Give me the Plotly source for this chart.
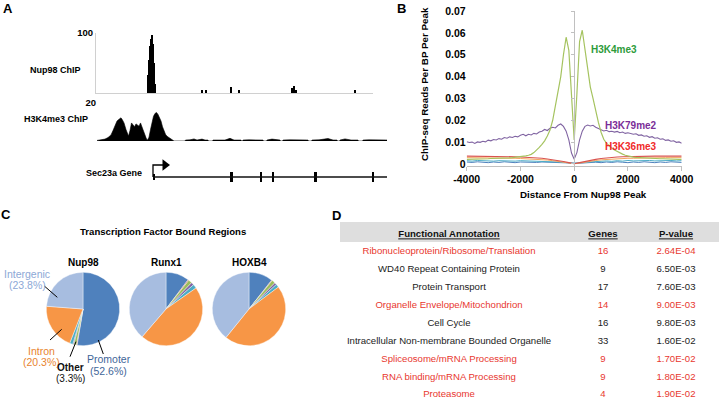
import plotly.graph_objects as go

W, H = 719, 400
def X(px): return px / W
def Y(py): return 1 - py / H

FONT = "Arial, 'Liberation Sans', Helvetica, sans-serif"

# ---------------- Panel A data ----------------
nup98_pos = [52, 53, 54, 55, 56, 57, 58, 59, 106, 110.5, 135, 143, 196, 198, 200, 259]
nup98_val = [30, 55, 78, 90, 97, 82, 50, 15, 5, 5, 10, 5, 9, 11, 5, 5]

h3k4_track_pos = [0, 4, 8, 11, 14, 16, 18, 20, 22, 24, 25.5, 27, 29, 30.5, 31.5, 33, 34.5, 36, 37.5, 39,
                  40.5, 42, 43.5, 45, 46.5, 48, 49.5, 50.5, 52, 53.5, 55, 56.5, 58, 59.5, 61, 62.5, 64,
                  65.5, 67, 68.5, 70, 72, 74, 76, 77, 88, 88.5, 93, 97, 100, 105, 108, 111, 111.5,
                  115.5, 116, 122, 128, 133, 137, 144, 144.5, 145.5, 146, 152, 158, 163, 166, 166.5,
                  169.5, 170, 175, 183, 183.5, 185.5, 186, 193, 200, 206, 211, 211.5, 214.5, 215, 222,
                  231, 236, 240, 240.5, 242.5, 243, 248, 254, 261, 261.5, 265.5, 266, 272, 280, 286, 290]
h3k4_track_val = [0.3, 0.6, 1.0, 1.8, 3.2, 5.5, 8.0, 10.5, 11.4, 12.2, 11.0, 9.5, 6.0, 3.5, 2.6, 5.5, 9.5,
                  8.5, 7.5, 9.0, 8.2, 7.8, 9.5, 7.5, 5.0, 2.5, 1.0, 0.5, 2.0, 6.0, 10.5, 13.0, 14.5,
                  15.0, 14.0, 12.5, 10.5, 7.5, 5.0, 3.5, 2.5, 1.8, 1.2, 0.6, 0, 0, 0.5, 0.6, 1.1, 0.5,
                  1.0, 0.5, 0.5, 0, 0, 0.5, 0.6, 0.5, 1.4, 0.5, 0.5, 0, 0, 0.5, 0.6, 0.5, 0.7, 0.5, 0,
                  0, 0.5, 1.0, 0.5, 0, 0, 0.5, 0.6, 0.5, 0.6, 0.5, 0, 0, 0.5, 0.6, 1.3, 0.5, 0.5, 0,
                  0, 0.5, 1.1, 0.5, 0.5, 0, 0, 0.5, 0.6, 0.5, 0.6, 0.5]

gene_start = 56
gene_end = 291
exon_center = [56.5, 134.7, 164, 176.3, 218, 276.3]
exon_width = [2, 3, 1, 1, 3, 1]
exon_half_height = [0.3, 0.5, 0.5, 0.5, 0.5, 0.5]

# ---------------- Panel B data ----------------
dist_fine = [-4000, -3900, -3800, -3700, -3600, -3500, -3400, -3300, -3200, -3100, -3000, -2900, -2800,
             -2700, -2600, -2500, -2400, -2300, -2200, -2100, -2000, -1900, -1800, -1700, -1600, -1500,
             -1400, -1300, -1200, -1100, -1000, -900, -800, -700, -600, -500, -400, -300, -200, -100, 0,
             100, 200, 300, 400, 500, 600, 700, 800, 900, 1000, 1100, 1200, 1300, 1400, 1500, 1600, 1700,
             1800, 1900, 2000, 2100, 2200, 2300, 2400, 2500, 2600, 2700, 2800, 2900, 3000, 3100, 3200,
             3300, 3400, 3500, 3600, 3700, 3800, 3900, 4000]
h3k4me3 = [.0021, .0021, .0022, .0022, .0022, .0023, .0023, .0024, .0024, .0025, .0025, .0026, .0026,
           .0027, .0027, .0028, .0028, .0029, .0030, .0031, .0033, .0035, .0037, .0040, .0044, .0052,
           .0062, .0076, .0090, .0106, .0128, .0155, .0200, .0265, .0330, .0400, .0500, .0580, .0520,
           .0320, .0110, .0320, .0560, .0612, .0520, .0420, .0352, .0300, .0240, .0190, .0145, .0113,
           .0095, .0082, .0072, .0064, .0057, .0051, .0045, .0040, .0036, .0033, .0031, .0030, .0029,
           .0028, .0027, .0027, .0026, .0026, .0025, .0025, .0024, .0024, .0023, .0023, .0022, .0022,
           .0022, .0021, .0021]
h3k79me2 = [.0102, .0098, .0100, .0094, .0101, .0099, .0104, .0101, .0109, .0106, .0112, .0110, .0116,
            .0113, .0121, .0118, .0124, .0121, .0127, .0124, .0131, .0136, .0129, .0136, .0133, .0140,
            .0137, .0146, .0150, .0158, .0153, .0163, .0168, .0165, .0177, .0183, .0172, .0150, .0110,
            .0050, .0022, .0052, .0110, .0150, .0172, .0178, .0174, .0177, .0168, .0162, .0156, .0151,
            .0154, .0148, .0150, .0146, .0149, .0143, .0146, .0140, .0143, .0139, .0136, .0138, .0131,
            .0133, .0127, .0129, .0122, .0125, .0118, .0120, .0113, .0115, .0108, .0110, .0104, .0106,
            .0099, .0101, .0095]

dist_coarse = [-4000, -3800, -3600, -3400, -3200, -3000, -2800, -2600, -2400, -2200, -2000, -1800, -1600,
               -1400, -1200, -1000, -800, -600, -400, -200, 0, 200, 400, 600, 800, 1000, 1200, 1400,
               1600, 1800, 2000, 2200, 2400, 2600, 2800, 3000, 3200, 3400, 3600, 3800, 4000]
h3k36me3 = [.0036, .0036, .0036, .0035, .0035, .0035, .0034, .0034, .0033, .0033, .0032, .0031, .0030,
            .0028, .0026, .0023, .0020, .0016, .0011, .0006, .0001, .0006, .0012, .0017, .0021, .0025,
            .0028, .0030, .0032, .0033, .0034, .0034, .0035, .0035, .0035, .0036, .0036, .0036, .0036,
            .0036, .0036]
mark_orange = [.0029, .0029, .0029, .0028, .0028, .0028, .0027, .0027, .0026, .0026, .0025, .0024, .0023,
               .0022, .0020, .0018, .0015, .0012, .0008, .0004, .0001, .0004, .0009, .0013, .0016, .0019,
               .0021, .0023, .0024, .0025, .0026, .0026, .0027, .0027, .0028, .0028, .0028, .0029, .0029,
               .0029, .0029]
mark_teal = [.0015, .0013, .0016, .0014, .0015, .0013, .0015, .0014, .0016, .0013, .0015, .0014, .0013,
             .0015, .0012, .0013, .0011, .0010, .0008, .0005, .0003, .0006, .0008, .0010, .0012, .0013,
             .0014, .0012, .0015, .0013, .0016, .0014, .0015, .0013, .0016, .0014, .0015, .0013, .0016,
             .0014, .0015]
mark_blue = [.0009, .0007, .0010, .0008, .0006, .0009, .0007, .0010, .0008, .0006, .0009, .0008, .0010,
             .0007, .0009, .0008, .0006, .0007, .0005, .0003, .0001, .0003, .0005, .0007, .0008, .0006,
             .0009, .0007, .0010, .0008, .0006, .0009, .0007, .0010, .0008, .0006, .0009, .0007, .0010,
             .0008, .0007]
b_xticks = [-4000, -2000, 0, 2000, 4000]
b_xtick_text = ["-4000", "-2000", "0", "2000", "4000"]
b_yticks = [0, 0.01, 0.02, 0.03, 0.04, 0.05, 0.06, 0.07]
b_ytick_text = ["0", "0.01", "0.02", "0.03", "0.04", "0.05", "0.06", "0.07"]

# ---------------- Panel C data ----------------
region_labels = ["Promoter", "5' UTR", "Exon", "3' UTR", "TTS", "Intron", "Intergenic"]
region_colors = ["#4F81BD", "#C0504D", "#9BBB59", "#8064A2", "#4BACC6", "#F79646", "#A7BDE0"]
nup98_pie = [52.6, 0.3, 1.2, 0.4, 1.4, 20.3, 23.8]
runx1_pie = [10.3, 0.4, 1.6, 1.2, 1.8, 46.0, 38.7]
hoxb4_pie = [10.6, 0.3, 1.5, 1.0, 1.4, 46.0, 39.2]

# ---------------- Panel D data ----------------
table_header = ["Functional Annotation", "Genes", "P-value"]
func_annotation = ["Ribonucleoprotein/Ribosome/Translation", "WD40 Repeat Containing Protein",
                   "Protein Transport", "Organelle Envelope/Mitochondrion", "Cell Cycle",
                   "Intracellular Non-membrane Bounded Organelle", "Spliceosome/mRNA Processing",
                   "RNA binding/mRNA Processing", "Proteasome"]
genes = ["16", "9", "17", "14", "16", "33", "9", "9", "4"]
pvalues = ["2.64E-04", "6.50E-03", "7.60E-03", "9.00E-03", "9.80E-03", "1.60E-02", "1.70E-02",
           "1.80E-02", "1.90E-02"]
highlight = [True, False, False, True, False, False, True, True, True]

RED = "#E8372F"
DARK = "#222222"

fig = go.Figure()

# ----- Panel A traces -----
fig.add_trace(go.Bar(x=nup98_pos, y=nup98_val, width=1.1, marker=dict(color="black", line=dict(width=0)),
                     xaxis="x3", yaxis="y3", showlegend=False))
fig.add_trace(go.Scatter(x=h3k4_track_pos, y=h3k4_track_val, mode="lines", fill="tozeroy",
                         line=dict(color="black", width=0.6), fillcolor="black",
                         xaxis="x4", yaxis="y4", showlegend=False))
fig.add_trace(go.Scatter(x=[gene_start, gene_end], y=[0, 0], mode="lines",
                         line=dict(color="#111111", width=1.3), xaxis="x5", yaxis="y5", showlegend=False))
fig.add_trace(go.Bar(x=exon_center, y=[2 * h for h in exon_half_height], base=[-h for h in exon_half_height],
                     width=exon_width, marker=dict(color="black", line=dict(width=0)),
                     xaxis="x5", yaxis="y5", showlegend=False))
arrow_len = 10
fig.add_trace(go.Scatter(x=[gene_start, gene_start, gene_start + arrow_len], y=[0, 1.2, 1.2], mode="lines",
                         line=dict(color="black", width=1.3), xaxis="x5", yaxis="y5", showlegend=False))
fig.add_trace(go.Scatter(x=[gene_start + arrow_len + 2], y=[1.2], mode="markers",
                         marker=dict(symbol="triangle-right", size=10, color="black"),
                         xaxis="x5", yaxis="y5", showlegend=False))

# ----- Panel B traces -----
fig.add_trace(go.Scatter(x=dist_coarse, y=mark_blue, mode="lines", line=dict(color="#4F81BD", width=1),
                         showlegend=False))
fig.add_trace(go.Scatter(x=dist_coarse, y=mark_teal, mode="lines", line=dict(color="#4BACC6", width=1),
                         showlegend=False))
fig.add_trace(go.Scatter(x=dist_coarse, y=mark_orange, mode="lines", line=dict(color="#F2A65E", width=1),
                         showlegend=False))
fig.add_trace(go.Scatter(x=dist_coarse, y=h3k36me3, mode="lines", line=dict(color="#D9534F", width=1.1),
                         showlegend=False))
fig.add_trace(go.Scatter(x=dist_fine, y=h3k79me2, mode="lines", line=dict(color="#8064A2", width=1.1),
                         showlegend=False))
fig.add_trace(go.Scatter(x=dist_fine, y=h3k4me3, mode="lines", line=dict(color="#A5C35F", width=1.2),
                         showlegend=False))
fig.add_trace(go.Scatter(x=[0], y=[0], mode="markers", marker=dict(size=1, opacity=0),
                         xaxis="x", yaxis="y2", showlegend=False, hoverinfo="skip"))

# ----- Panel C pies -----
pie_r = 36.7
for vals, cx in [(nup98_pie, 83), (runx1_pie, 166), (hoxb4_pie, 249)]:
    cy = 309
    fig.add_trace(go.Pie(values=vals, labels=region_labels, sort=False, direction="clockwise", rotation=0,
                         marker=dict(colors=region_colors, line=dict(color="white", width=0.4)),
                         textinfo="none", showlegend=False,
                         domain=dict(x=[X(cx - pie_r), X(cx + pie_r)], y=[Y(cy + pie_r), Y(cy - pie_r)])))

# ----- Panel D table (text cells on their own axis: x = column centre, y = row index) -----
row_colors = [RED if h else DARK for h in highlight]
rows = list(range(len(func_annotation)))
col_centres = [449, 603, 676]
header_row = -0.95
for col_vals, cx in zip([func_annotation, genes, pvalues], col_centres):
    fig.add_trace(go.Scatter(x=[cx] * len(col_vals), y=rows, text=col_vals, mode="text",
                             textposition="middle center",
                             textfont=dict(family=FONT, size=9.6, color=row_colors),
                             xaxis="x6", yaxis="y6", showlegend=False, hoverinfo="skip"))
fig.add_trace(go.Scatter(x=col_centres, y=[header_row] * 3,
                         text=[f"<b><u>{h}</u></b>" for h in table_header], mode="text",
                         textposition="middle center", textfont=dict(family=FONT, size=9.6, color="#111111"),
                         xaxis="x6", yaxis="y6", showlegend=False, hoverinfo="skip"))

ann = []
def txt(t, px, py, size=10, color="black", bold=False, xanchor="center", yanchor="middle", angle=0):
    ann.append(dict(text=(f"<b>{t}</b>" if bold else t), x=X(px), y=Y(py), xref="paper", yref="paper",
                    showarrow=False, xanchor=xanchor, yanchor=yanchor, textangle=angle,
                    font=dict(family=FONT, size=size, color=color)))

txt("A", 8, 8, 13, bold=True)
txt("B", 402, 8, 13, bold=True)
txt("C", 6, 214, 13, bold=True)
txt("D", 336, 215, 13, bold=True)

txt("Nup98 ChIP", 83, 70, 9, bold=True, xanchor="right")
txt("H3K4me3 ChIP", 90, 119, 9, bold=True, xanchor="right")
txt("Sec23a Gene", 144, 173, 9, bold=True, xanchor="right")

txt("ChIP-seq Reads Per BP Per Peak", 425, 84, 9.8, bold=True, angle=-90)
txt("Distance From Nup98 Peak", 583, 194, 9.8, bold=True)
txt("H3K4me3", 614, 49, 10, color="#2E9B3A", bold=True)
txt("H3K79me2", 631, 125, 10, color="#7A2E98", bold=True)
txt("H3K36me3", 631, 147, 10, color="#F02A2A", bold=True)

txt("Transcription Factor Bound Regions", 163, 232, 9.6, bold=True)
txt("Nup98", 83, 262, 10, bold=True)
txt("Runx1", 166, 262, 10, bold=True)
txt("HOXB4", 249, 262, 10, bold=True)
txt("Intergenic", 27.5, 274, 10.5, color="#8DA8D6")
txt("(23.8%)", 27, 285, 10.5, color="#8DA8D6")
txt("Intron", 41.5, 351, 10.5, color="#E8842F")
txt("(20.3%)", 41, 362, 10.5, color="#E8842F")
txt("Other", 70.5, 367, 10, color="#111111", bold=True)
txt("(3.3%)", 70.5, 378, 10, color="#111111")
txt("Promoter", 108.5, 359, 10.5, color="#3F6699")
txt("(52.6%)", 108, 371, 10.5, color="#3F6699")

shapes = []
def seg(x0, y0, x1, y1, color="black", width=1):
    shapes.append(dict(type="line", xref="paper", yref="paper", x0=X(x0), y0=Y(y0), x1=X(x1), y1=Y(y1),
                       line=dict(color=color, width=width)))
seg(44.3, 286, 57.3, 297.3)
seg(50, 340, 61.7, 329.3)
seg(70, 356.7, 76, 341.7)
seg(98.3, 340, 103.3, 354)
shapes.append(dict(type="rect", xref="paper", yref="paper", x0=X(340), x1=1, y0=Y(242), y1=Y(222),
                   fillcolor="#DEDEDE", line=dict(width=0), layer="below"))

axis_off = dict(showgrid=False, zeroline=False, showticklabels=False, ticks="", showline=False)

fig.update_layout(
    template="none",
    width=W, height=H, margin=dict(l=0, r=0, t=0, b=0, pad=0, autoexpand=False),
    paper_bgcolor="white", plot_bgcolor="rgba(0,0,0,0)",
    font=dict(family=FONT, color="black"),
    bargap=0, showlegend=False,
    annotations=ann, shapes=shapes,
    xaxis=dict(domain=[X(466.7), X(681.7)], range=[-4000, 4000], tickvals=b_xticks, ticktext=b_xtick_text,
               showline=True, linecolor="#C0C0C0", linewidth=1, ticks="outside", ticklen=4,
               tickcolor="#C0C0C0", showgrid=False, zeroline=False, anchor="y", automargin=False,
               tickfont=dict(family=FONT, size=10.5, color="black", weight="bold")),
    yaxis=dict(domain=[Y(165.5), Y(11)], range=[-0.0007, 0.07], tickvals=b_yticks, ticktext=b_ytick_text,
               showline=False, ticks="", showgrid=False, zeroline=False, anchor="x", automargin=False,
               tickfont=dict(family=FONT, size=10.5, color="black", weight="bold")),
    yaxis2=dict(overlaying="y", anchor="free", position=X(574), side="left", range=[-0.0007, 0.07],
                tickvals=b_yticks, showticklabels=False, showline=True, linecolor="#C0C0C0", linewidth=1,
                ticks="outside", ticklen=3, tickcolor="#C0C0C0", showgrid=False, zeroline=False,
                automargin=False),
    xaxis3=dict(domain=[X(96), X(373)], range=[0, 277], anchor="y3", showgrid=False, zeroline=False,
                showticklabels=False, ticks="", showline=True, linecolor="#D0D0D0", linewidth=1,
                automargin=False),
    yaxis3=dict(domain=[Y(93), Y(33)], range=[0, 100], anchor="x3", showgrid=False, zeroline=False,
                tickvals=[100], ticktext=["100"], ticks="", showline=True, linecolor="#D0D0D0", linewidth=1,
                automargin=False, tickfont=dict(family=FONT, size=9.5, color="black", weight="bold")),
    xaxis4=dict(domain=[X(97), X(387)], range=[0, 290], anchor="y4", automargin=False, **axis_off),
    yaxis4=dict(domain=[Y(141), Y(103)], range=[0, 20], anchor="x4", showgrid=False, zeroline=False,
                tickvals=[20], ticktext=["20"], ticks="", showline=False, automargin=False,
                tickfont=dict(family=FONT, size=9.5, color="black", weight="bold")),
    xaxis5=dict(domain=[X(97), X(387)], range=[0, 290], anchor="y5", automargin=False, **axis_off),
    yaxis5=dict(domain=[Y(197), Y(157)], range=[-2, 2], anchor="x5", automargin=False, **axis_off),
    xaxis6=dict(domain=[X(340), 1], range=[340, 719], anchor="y6", automargin=False, **axis_off),
    yaxis6=dict(domain=[0, Y(222)], range=[8.28, -1.678], anchor="x6", automargin=False, **axis_off),
)

fig.write_html("out.html", config={"displayModeBar": False},
               post_script="document.body.style.margin='0';document.body.style.overflow='hidden';")
